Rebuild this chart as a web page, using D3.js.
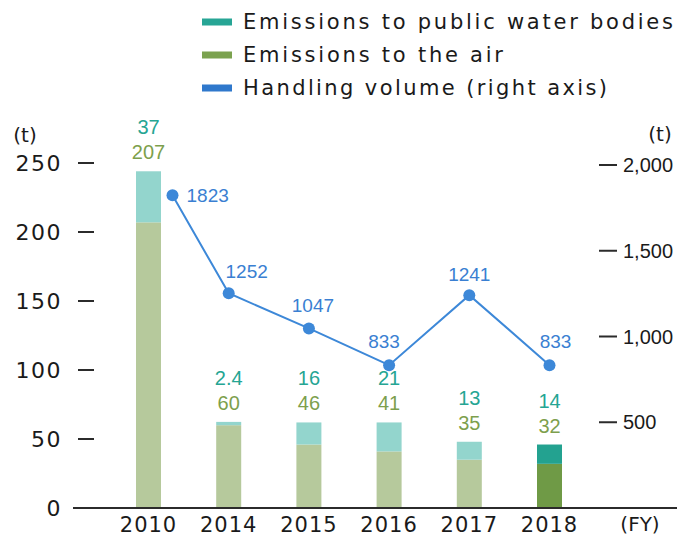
<!DOCTYPE html>
<html>
<head>
<meta charset="utf-8">
<script src="https://cdn.jsdelivr.net/npm/d3@7"></script>
<style>
  html, body { margin: 0; padding: 0; background: #fff; }
  svg { display: block; }
</style>
</head>
<body>
<svg id="chart" width="692" height="537"></svg>
<script>
// Fiscal years shown on the x axis
const years = ["2010", "2014", "2015", "2016", "2017", "2018"];
// Emissions (t), left axis
const airEmissions = [207, 60, 46, 41, 35, 32];
const waterEmissions = [37, 2.4, 16, 21, 13, 14];
// Handling volume (t), right axis
const handlingVolume = [1823, 1252, 1047, 833, 1241, 833];
// Axis ticks
const leftTicks = [0, 50, 100, 150, 200, 250];
const rightTicks = [500, 1000, 1500, 2000];
const legendLabels = ["Emissions to public water bodies", "Emissions to the air", "Handling volume (right axis)"];

const wideFont = "'DejaVu Sans', sans-serif";
const numFont = "'Liberation Sans', Arial, sans-serif";

const colors = {
  waterLight: "#93d5cd", airLight: "#b6c99c",
  waterDark: "#23a290", airDark: "#6f9a46",
  waterText: "#25a593", airText: "#7d9f4d",
  line: "#3d88d8", lineText: "#3a7fd2",
  legendWater: "#27a595", legendAir: "#7ba24f", legendLine: "#2f78cc",
  axis: "#2b2b2b"
};
const highlightYear = "2018";

const svg = d3.select("#chart");

const x = d3.scalePoint().domain(years).range([148.5, 549.5]);
const yLeft = d3.scaleLinear().domain([0, 250]).range([508, 163]);
const yRight = d3.scaleLinear().domain([0, 2000]).range([508, 165]);
const barW = 25;

// Legend
const legend = svg.append("g");
const legendColors = [colors.legendWater, colors.legendAir, colors.legendLine];
const legendWidths = [430, 260, 364];
legendLabels.forEach((t, i) => {
  const cy = 22 + i * 33;
  legend.append("rect").attr("x", 202).attr("y", cy - 3.5).attr("width", 30).attr("height", 7)
    .attr("fill", legendColors[i]);
  legend.append("text").attr("x", 243).attr("y", cy).attr("dy", "0.35em")
    .attr("font-family", wideFont).attr("font-size", 21).attr("fill", "#1a1a1a")
    .attr("textLength", legendWidths[i]).attr("lengthAdjust", "spacing")
    .text(t);
});

// Left axis
const leftAxis = svg.append("g");
leftTicks.forEach(v => {
  leftAxis.append("line").attr("x1", 78).attr("x2", 94).attr("y1", yLeft(v)).attr("y2", yLeft(v))
    .attr("stroke", colors.axis).attr("stroke-width", 2);
  leftAxis.append("text").attr("x", 62).attr("y", yLeft(v)).attr("dy", "0.36em")
    .attr("text-anchor", "end").attr("font-family", wideFont).attr("font-size", 22)
    .attr("letter-spacing", 1.5).attr("fill", "#1a1a1a").text(v);
});
svg.append("text").attr("x", 25).attr("y", 135).attr("dy", "0.35em").attr("text-anchor", "middle")
  .attr("font-family", wideFont).attr("font-size", 20).attr("fill", "#1a1a1a").text("(t)");

// Right axis
const rightAxis = svg.append("g");
const fmt = d3.format(",");
rightTicks.forEach(v => {
  rightAxis.append("line").attr("x1", 599).attr("x2", 617).attr("y1", yRight(v)).attr("y2", yRight(v))
    .attr("stroke", colors.axis).attr("stroke-width", 2);
  rightAxis.append("text").attr("x", 623).attr("y", yRight(v)).attr("dy", "0.36em")
    .attr("font-family", numFont).attr("font-size", 20).attr("fill", "#1a1a1a").text(fmt(v));
});
svg.append("text").attr("x", 660).attr("y", 134).attr("dy", "0.35em").attr("text-anchor", "middle")
  .attr("font-family", wideFont).attr("font-size", 20).attr("fill", "#1a1a1a").text("(t)");

// Stacked bars: air at the bottom, water on top
const bars = svg.append("g");
years.forEach((yr, i) => {
  const cx = x(yr);
  const hl = yr === highlightYear;
  const air = airEmissions[i], water = waterEmissions[i];
  bars.append("rect").attr("x", cx - barW / 2).attr("width", barW)
    .attr("y", yLeft(air)).attr("height", yLeft(0) - yLeft(air))
    .attr("fill", hl ? colors.airDark : colors.airLight);
  bars.append("rect").attr("x", cx - barW / 2).attr("width", barW)
    .attr("y", yLeft(air + water)).attr("height", yLeft(air) - yLeft(air + water))
    .attr("fill", hl ? colors.waterDark : colors.waterLight);
  const top = yLeft(air + water);
  bars.append("text").attr("x", cx).attr("y", top - 19).attr("dy", "0.35em").attr("text-anchor", "middle")
    .attr("font-family", numFont).attr("font-size", 20).attr("fill", colors.airText).text(air);
  bars.append("text").attr("x", cx).attr("y", top - 44).attr("dy", "0.35em").attr("text-anchor", "middle")
    .attr("font-family", numFont).attr("font-size", 20).attr("fill", colors.waterText).text(water);
});

// X axis baseline and year labels
svg.append("line").attr("x1", 73).attr("x2", 677).attr("y1", 508).attr("y2", 508)
  .attr("stroke", colors.axis).attr("stroke-width", 2);
years.forEach(yr => {
  svg.append("text").attr("x", x(yr)).attr("y", 524).attr("dy", "0.36em").attr("text-anchor", "middle")
    .attr("font-family", wideFont).attr("font-size", 21).attr("letter-spacing", 1)
    .attr("fill", "#1a1a1a").text(yr);
});
svg.append("text").attr("x", 640).attr("y", 524).attr("dy", "0.36em").attr("text-anchor", "middle")
  .attr("font-family", wideFont).attr("font-size", 20).attr("fill", "#1a1a1a").text("(FY)");

// Handling volume line; the 2010 marker sits beside its tall bar
const pts = years.map((yr, i) => ({
  x: x(yr) + (i === 0 ? 24 : 0),
  y: yRight(handlingVolume[i]),
  v: handlingVolume[i]
}));
svg.append("path").datum(pts)
  .attr("d", d3.line().x(d => d.x).y(d => d.y))
  .attr("fill", "none").attr("stroke", colors.line).attr("stroke-width", 2);
svg.append("g").selectAll("circle").data(pts).join("circle")
  .attr("cx", d => d.x).attr("cy", d => d.y).attr("r", 6).attr("fill", colors.line);

// Value labels for the line
const lineLabelShift = [[14, 0, "start"], [18, -22, "middle"], [4, -23, "middle"], [-5, -24, "middle"], [0, -21, "middle"], [6, -24, "middle"]];
svg.append("g").selectAll("text").data(pts).join("text")
  .attr("x", (d, i) => d.x + lineLabelShift[i][0])
  .attr("y", (d, i) => d.y + lineLabelShift[i][1]).attr("dy", "0.35em")
  .attr("text-anchor", (d, i) => lineLabelShift[i][2])
  .attr("font-family", numFont).attr("font-size", 19).attr("fill", colors.lineText)
  .text(d => d.v);
</script>
</body>
</html>
